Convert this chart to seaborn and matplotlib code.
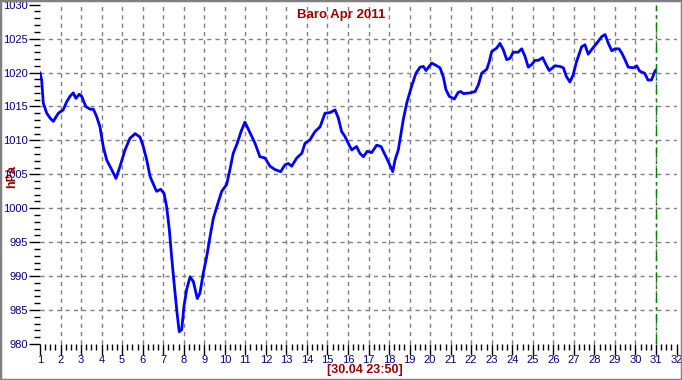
import matplotlib
matplotlib.use("Agg")
import matplotlib.pyplot as plt
import seaborn as sns
import pandas as pd
import numpy as np
from matplotlib.ticker import MultipleLocator
from matplotlib.patches import Rectangle

# ---- data ----
days = [1.00, 1.08, 1.16, 1.33, 1.49, 1.65, 1.89, 2.13, 2.30, 2.46, 2.62, 2.75, 2.91, 3.03,
        3.23, 3.44, 3.60, 3.76, 3.92, 4.08, 4.25, 4.49, 4.70, 4.90, 5.14, 5.38, 5.63, 5.87,
        6.03, 6.20, 6.36, 6.60, 6.68, 6.88, 7.04, 7.17, 7.30, 7.41, 7.53, 7.66, 7.78, 7.90,
        8.01, 8.14, 8.31, 8.47, 8.66, 8.79, 8.95, 9.12, 9.28, 9.44, 9.61, 9.85, 10.09, 10.25,
        10.41, 10.61, 10.79, 10.98, 11.23, 11.47, 11.71, 11.96, 12.20, 12.45, 12.72, 12.93,
        13.09, 13.26, 13.50, 13.75, 13.91, 14.15, 14.39, 14.64, 14.88, 15.12, 15.37, 15.53,
        15.69, 15.85, 16.01, 16.18, 16.42, 16.58, 16.75, 16.94, 17.15, 17.40, 17.61, 17.80,
        17.96, 18.18, 18.29, 18.45, 18.58, 18.69, 18.86, 19.10, 19.31, 19.51, 19.67, 19.80,
        20.08, 20.32, 20.48, 20.64, 20.77, 20.93, 21.18, 21.37, 21.49, 21.62, 21.94, 22.19,
        22.35, 22.51, 22.76, 22.88, 23.00, 23.24, 23.40, 23.56, 23.73, 23.89, 24.05, 24.29,
        24.46, 24.62, 24.78, 24.95, 25.11, 25.27, 25.48, 25.64, 25.80, 26.08, 26.33, 26.49,
        26.64, 26.81, 26.97, 27.13, 27.38, 27.54, 27.70, 27.87, 28.11, 28.36, 28.52, 28.68,
        28.85, 29.00, 29.20, 29.33, 29.49, 29.65, 29.90, 30.06, 30.21, 30.45, 30.61, 30.78,
        30.95, 31.00]
hpa = [1020.0, 1018.9, 1015.5, 1014.0, 1013.3, 1012.8, 1014.0, 1014.5, 1015.7, 1016.5, 1017.0,
       1016.2, 1016.8, 1016.5, 1015.0, 1014.6, 1014.6, 1013.5, 1012.0, 1009.1, 1007.1, 1005.7,
       1004.4, 1006.2, 1008.6, 1010.3, 1011.0, 1010.5, 1009.1, 1007.1, 1004.7, 1003.0, 1002.5,
       1002.8, 1002.2, 1000.2, 996.8, 992.9, 989.0, 985.0, 981.8, 982.1, 985.5, 988.0, 989.9,
       989.2, 986.7, 987.5, 990.4, 992.9, 995.8, 998.5, 1000.2, 1002.5, 1003.5, 1005.7, 1008.1,
       1009.6, 1011.3, 1012.7, 1011.1, 1009.6, 1007.6, 1007.4, 1006.2, 1005.7, 1005.4, 1006.4,
       1006.6, 1006.2, 1007.4, 1008.1, 1009.6, 1010.1, 1011.3, 1012.0, 1014.0, 1014.1, 1014.5,
       1013.3, 1011.3, 1010.6, 1009.6, 1008.6, 1009.1, 1008.1, 1007.6, 1008.4, 1008.2, 1009.3,
       1009.1, 1007.9, 1006.9, 1005.4, 1007.1, 1008.6, 1011.0, 1013.0, 1015.5, 1018.0, 1019.9,
       1020.8, 1020.9, 1020.3, 1021.4, 1021.0, 1020.7, 1019.4, 1017.5, 1016.5, 1016.1, 1017.1,
       1017.2, 1016.9, 1017.0, 1017.2, 1018.2, 1019.9, 1020.5, 1021.6, 1023.1, 1023.6, 1024.3,
       1023.4, 1021.9, 1022.1, 1023.0, 1023.0, 1023.5, 1022.4, 1020.8, 1021.2, 1021.8, 1021.8,
       1022.2, 1021.2, 1020.3, 1021.0, 1020.9, 1020.7, 1019.4, 1018.6, 1019.7, 1021.6, 1023.8,
       1024.1, 1022.7, 1023.4, 1024.3, 1025.3, 1025.6, 1024.3, 1023.2, 1023.5, 1023.5, 1022.9,
       1021.9, 1020.8, 1020.7, 1021.0, 1020.2, 1019.9, 1018.9, 1018.9, 1020.2, 1020.4]
x_ticks = list(range(1, 33))
y_ticks = list(range(980, 1031, 5))
title = "Baro Apr 2011"
y_label = "hPa"
x_label = "[30.04 23:50]"
marker_day = 31

sns.set_style("white")
plt.rcParams['font.family'] = ['Liberation Sans', 'DejaVu Sans']

W, H = 682, 380
fig = plt.figure(figsize=(W / 100, H / 100), dpi=100)
ax = fig.add_axes([40 / W, (H - 344) / H, (676.5 - 40) / W, (344 - 4.7) / H])

df = pd.DataFrame({"day": days, "hPa": hpa})
sns.lineplot(data=df, x="day", y="hPa", ax=ax, color="#0000FF", linewidth=2.0,
             sort=False, estimator=None, zorder=3)

ax.set_xlim(1, 32)
ax.set_ylim(980, 1030)
ax.set_xticks(x_ticks)
ax.set_yticks(y_ticks)
ax.xaxis.set_minor_locator(MultipleLocator(0.25))
ax.yaxis.set_minor_locator(MultipleLocator(1))
ax.tick_params(axis="both", which="major", direction="out", length=8, width=1,
               color="black", labelcolor="#000080", labelsize=8, pad=0.5,
               bottom=True, left=True)
ax.tick_params(axis="x", which="major", pad=0)
ax.tick_params(axis="both", which="minor", direction="out", length=4, width=1,
               color="black", bottom=True, left=True)
for s in ax.spines.values():
    s.set_visible(False)

ax.set_xlabel("")
ax.set_ylabel("")
for t in x_ticks[1:-1]:
    ax.axvline(t, color="#808080", linestyle=(0, (3, 3)), linewidth=1, zorder=1)
for t in y_ticks[1:-1]:
    ax.axhline(t, color="#808080", linestyle=(0, (3, 3)), linewidth=1, zorder=1)
ax.axvline(marker_day, color="#008000", linestyle=(0, (7, 3, 2, 3)), linewidth=1, zorder=4)

fig.text(341 / W, 1 - 15 / H, title, color="#990000", fontsize=9.5, fontweight="bold",
         ha="center", va="center")
fig.text(12 / W, 1 - 176 / H, y_label, color="#990000", fontsize=9, fontweight="bold",
         rotation=90, ha="center", va="center")
fig.text(365 / W, 1 - 370.5 / H, x_label, color="#990000", fontsize=9, fontweight="bold",
         ha="center", va="center")

fig.add_artist(Rectangle((0, 0), 1, 1, transform=fig.transFigure, fill=False,
                         edgecolor="#808080", linewidth=2.5))

fig.savefig("out.png", dpi=100)
